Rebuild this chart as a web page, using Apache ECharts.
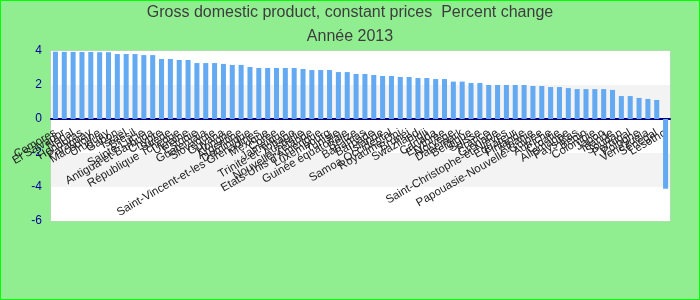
<!DOCTYPE html>
<html>
<head>
<meta charset="utf-8">
<script src="https://cdn.jsdelivr.net/npm/echarts@6/dist/echarts.min.js"></script>
<style>
html,body{margin:0;padding:0;background:#90EE90;}
#c{width:700px;height:300px;}
</style>
</head>
<body>
<div id="c"></div>
<script>
var categories = [
  "Comores","El Salvador","Népal","Honduras","Paraguay","Macédoine","Uruguay","Gabon","Israël","Brésil",
  "Sainte-Lucie","Antigua-et-Barbuda","Chypre","Suède","République Tchèque","Ukraine","Estonie","Guatemala","Slovaquie","Guyana",
  "Hongrie","Argentine","Dominique","Saint-Vincent-et-les Grenadines","Mexique","Corée","Jamaïque","Trinité-et-Tobago","Australie","Nouvelle-Zélande",
  "Etats-Unis d'Amérique","Luxembourg","Tunisie","Guinée équatoriale","Belize","Bahamas","Barbade","Islande","Samoa Occidental","Royaume-Uni",
  "Brunéi","Swaziland","Fidji","Canada","Erythrée","Norvège","Danemark","Belgique","Suisse","France",
  "Grenade","Saint-Christophe-et-Niévès","Equateur","Finlande","Albanie","Papouasie-Nouvelle-Guinée","Autriche","Croatie","Allemagne","Pays-Bas",
  "Bénin","Colombie","Japon","Irlande","Soudan","Portugal","Pologne","Venezuela","Sénégal","Lesotho"
];
var growth = [
  3.96,3.95,3.95,3.94,3.94,3.93,3.93,3.82,3.82,3.82,
  3.76,3.76,3.53,3.53,3.47,3.47,3.29,3.29,3.29,3.24,
  3.18,3.18,3.06,3.0,3.0,3.0,3.0,3.0,2.94,2.88,
  2.88,2.88,2.76,2.76,2.65,2.65,2.59,2.53,2.53,2.47,
  2.47,2.41,2.41,2.35,2.35,2.2,2.2,2.12,2.12,2.0,
  2.0,2.0,2.0,2.0,1.94,1.94,1.88,1.88,1.82,1.76,
  1.76,1.76,1.76,1.71,1.35,1.35,1.24,1.18,1.12,-4.1
];
var yMin = -6, yMax = 4, yStep = 2;
var titleText = "Gross domestic product, constant prices  Percent change";
var subtitleText = "Année 2013";

var gridTop = 51, gridBottom = 79, gridH = 300 - gridTop - gridBottom;
var zeroOffset = -gridH * (0 - yMin) / (yMax - yMin);

var chart = echarts.init(document.getElementById('c'), null, {renderer:'canvas'});
chart.setOption({
  backgroundColor: '#90EE90',
  animation: false,
  title: {
    text: titleText,
    subtext: subtitleText,
    left: 'center',
    top: 0,
    itemGap: 8,
    textStyle: {fontFamily: 'Arial, Liberation Sans', fontSize: 16, fontWeight: 'normal', color: '#3d3d3d'},
    subtextStyle: {fontFamily: 'Arial, Liberation Sans', fontSize: 16, color: '#3d3d3d'}
  },
  graphic: [{
    type: 'rect', silent: true, z: 100,
    shape: {x: 0, y: 0, width: 700, height: 300},
    style: {fill: null, stroke: '#00ff00', lineWidth: 2}
  }],
  grid: {
    left: 51, right: 30, top: gridTop, bottom: gridBottom,
    outerBoundsMode: 'none',
    containLabel: false,
    show: true, backgroundColor: '#ffffff', borderColor: '#cccccc', borderWidth: 1
  },
  xAxis: {
    type: 'category',
    data: categories,
    position: 'bottom',
    offset: zeroOffset,
    axisLine: {onZero: false, lineStyle: {color: '#000080', width: 2}},
    axisTick: {show: false},
    axisLabel: {
      interval: 0, rotate: 30, margin: 13, hideOverlap: false,
      fontFamily: 'Arial, Liberation Sans', fontSize: 11.5, color: '#222'
    }
  },
  yAxis: {
    type: 'value',
    min: yMin, max: yMax, interval: yStep,
    axisLine: {show: false},
    axisTick: {show: false},
    splitLine: {show: false},
    splitArea: {show: true, areaStyle: {color: ['#ffffff', '#f3f3f3']}},
    axisLabel: {fontFamily: 'Arial, Liberation Sans', fontSize: 12, color: '#000099', margin: 9}
  },
  series: [{
    type: 'bar',
    data: growth,
    barWidth: '57%',
    itemStyle: {color: '#64aaf2'}
  }]
});
</script>
</body>
</html>
